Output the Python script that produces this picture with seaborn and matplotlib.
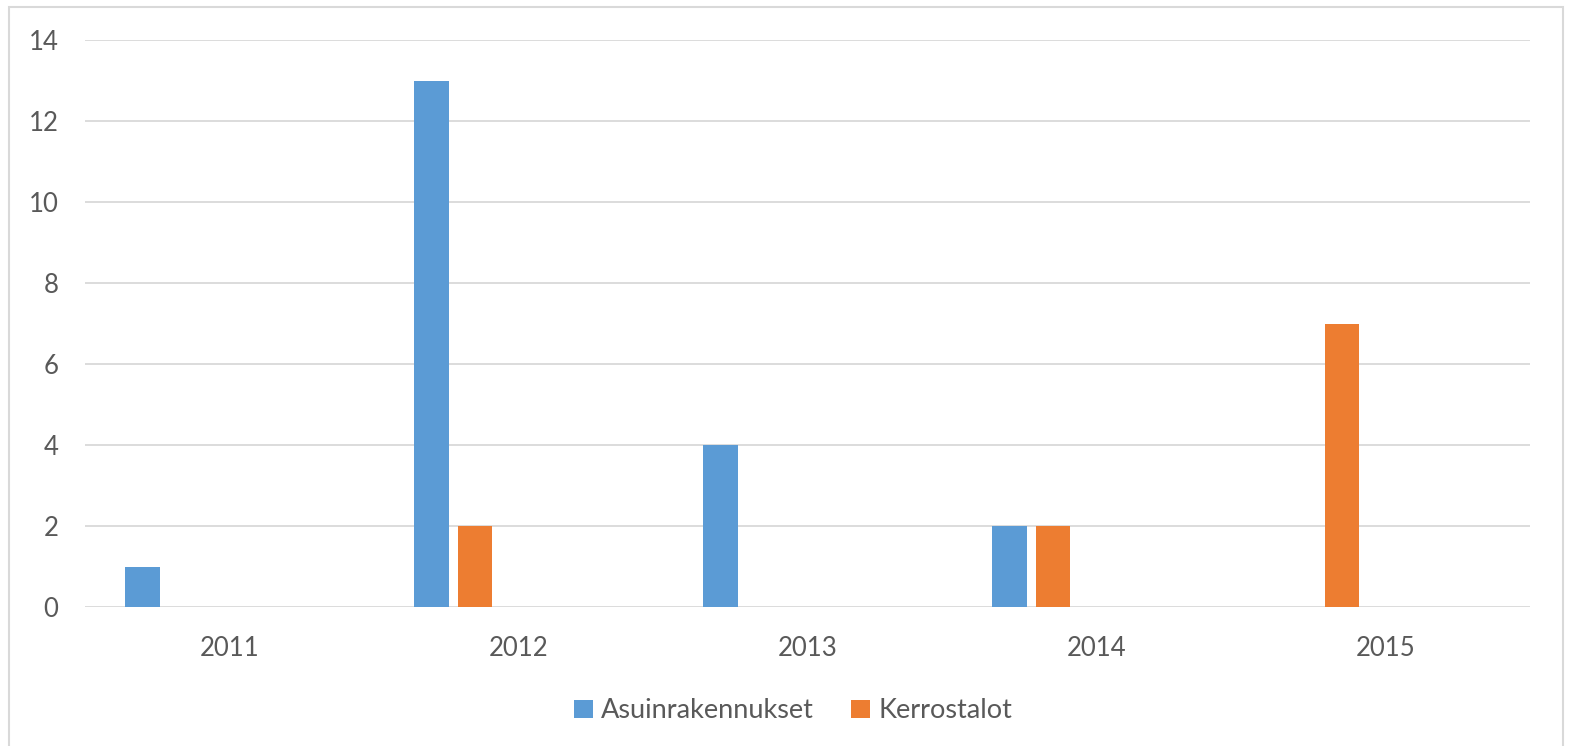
import matplotlib
matplotlib.use("Agg")
import matplotlib.pyplot as plt
import seaborn as sns
import pandas as pd
from matplotlib.patches import Rectangle, Patch

years = ["2011", "2012", "2013", "2014", "2015"]
asuinrakennukset = [1, 13, 4, 2, 0]
kerrostalot = [0, 2, 0, 2, 7]
series_names = ["Asuinrakennukset", "Kerrostalot"]
colors = ["#5B9BD5", "#ED7D31"]
y_ticks = [0, 2, 4, 6, 8, 10, 12, 14]

df = pd.DataFrame({
    "year": years * 2,
    "value": asuinrakennukset + kerrostalot,
    "series": [series_names[0]] * len(years) + [series_names[1]] * len(years),
})

sns.set_theme(style="white")
plt.rcParams["font.family"] = ["Lato", "DejaVu Sans"]
text_color = "#595959"
grid_color = "#D9D9D9"

fig = plt.figure(figsize=(15.70, 7.46), dpi=100)
ax = fig.add_axes([85/1570, 1-607/746, (1530-85)/1570, (607-40)/746])

sns.barplot(data=df, x="year", y="value", hue="series", hue_order=series_names,
            palette=colors, ax=ax, legend=False, linewidth=0, saturation=1)

# Excel-style clustered layout: slots as for hidden series, bars left of centre
offsets = [-0.30, -0.15]
bar_w = 0.12
for cont, off in zip(ax.containers, offsets):
    for j, bar in enumerate(cont):
        bar.set_x(j + off - bar_w / 2)
        bar.set_width(bar_w)
        if bar.get_height() == 0:
            bar.set_visible(False)

ax.set_xlim(-0.5, len(years) - 0.5)
ax.set_ylim(0, 14)
ax.set_yticks(y_ticks)
ax.set_yticklabels([str(t) for t in y_ticks])
ax.set_xlabel("")
ax.set_ylabel("")
ax.yaxis.grid(True, color=grid_color, linewidth=1.3)
ax.set_axisbelow(True)
for s in ["top", "right", "left", "bottom"]:
    ax.spines[s].set_visible(False)
ax.tick_params(axis="y", length=0, pad=19, labelsize=18.5, labelcolor=text_color)
ax.tick_params(axis="x", length=0, pad=21, labelsize=18.5, labelcolor=text_color)

handles = [Patch(facecolor=c, edgecolor="none") for c in colors]
fig.legend(handles, series_names, loc="center", bbox_to_anchor=(793/1570, 1-711/746),
           ncol=2, frameon=False, fontsize=19.5, labelcolor=text_color,
           handlelength=0.68, handleheight=0.68, handletextpad=0.3, columnspacing=1.4)

# chart outer border
fig.patches.append(Rectangle((9/1570, -0.05), (1563-9)/1570, 1.05 - 7/746,
                             transform=fig.transFigure, fill=False,
                             edgecolor=grid_color, linewidth=1.5))

fig.savefig("out.png", dpi=100, facecolor="white")
